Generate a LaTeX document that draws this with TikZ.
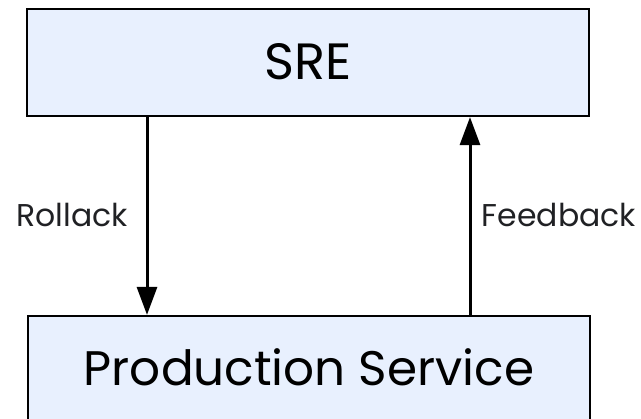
\documentclass[tikz,border=0pt]{standalone}
\usepackage{fontspec}
\setmainfont{Poppins}
\usetikzlibrary{arrows.meta}
\definecolor{boxfill}{HTML}{E8F0FE}
\definecolor{labelgray}{HTML}{202124}
\tikzset{
  x=1pt, y=1pt,
  block/.style={draw=black, line width=2.2pt, fill=boxfill, minimum width=562pt,
    inner sep=0pt, text depth=0pt},
  flow/.style={line width=3pt, -{Triangle[width=20pt,length=28pt]}},
  edgelabel/.style={anchor=base, text=labelgray, font=\fontsize{31.5}{34}\selectfont}
}
\begin{document}
\begin{tikzpicture}
  \useasboundingbox (0,0) rectangle (641,419);
  % boxes
  \node[block, minimum height=107pt, text height=35pt, font=\fontsize{51}{56}\selectfont] (sre) at (308,356.5) {SRE};
  \node[block, minimum height=106pt, text height=34pt, font=\fontsize{48.5}{53}\selectfont] (prod) at (309,50) {Production Service};
  % arrow columns
  \coordinate (lx) at (147,0);
  \coordinate (rx) at (470,0);
  \draw[flow] (sre.south -| lx) -- (prod.north -| lx);
  \draw[flow] (prod.north -| rx) -- (sre.south -| rx);
  % labels
  \node[edgelabel] (rollback) at (72,192) {Rollack};
  \node[edgelabel] (feedback) at (559,192) {Feedback};
\end{tikzpicture}
\end{document}
